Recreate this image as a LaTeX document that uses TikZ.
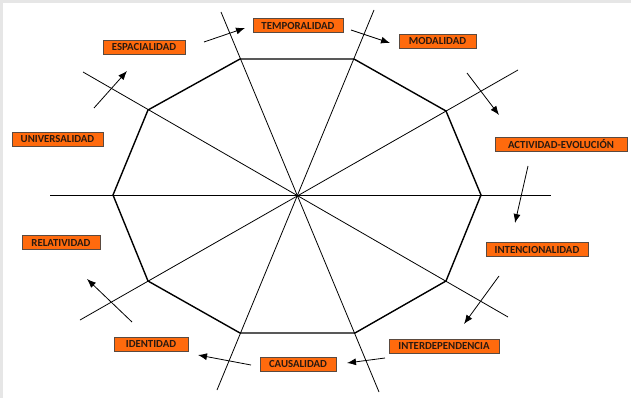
\documentclass[tikz,border=0pt]{standalone}
\usepackage{fontspec}
\setmainfont{Carlito}
\usetikzlibrary{arrows.meta}
\definecolor{boxorange}{HTML}{FF6A0D}
\definecolor{boxedge}{HTML}{5A4A40}
\definecolor{frame}{HTML}{E6E6E6}
\definecolor{txt}{HTML}{2A1A10}
\begin{document}
\begin{tikzpicture}[x=1pt,y=-1pt,
  lab/.style={draw=boxedge, line width=0.8pt, fill=boxorange, inner sep=0pt, minimum height=14pt, text=txt, font=\bfseries\fontsize{10.8}{12}\selectfont},
  spoke/.style={line width=0.8pt, black},
  poly/.style={line width=1.4pt, black, line join=miter},
  arr/.style={line width=0.8pt, -{Latex[length=9pt,width=7pt]}}]
\useasboundingbox (0,0) rectangle (631,398);
\fill[frame] (0,0) rectangle (631,398);
\fill[white] (3,3) rectangle (631,398);
% center and vertices
\coordinate (c) at (297,195);
\coordinate (v1) at (240,59);
\coordinate (v2) at (354,59);
\coordinate (v3) at (446,111);
\coordinate (v4) at (481,195);
\coordinate (v5) at (446,281);
\coordinate (v6) at (355,333);
\coordinate (v7) at (240,333);
\coordinate (v8) at (148,281);
\coordinate (v9) at (113,195);
\coordinate (v10) at (148,110);
% spoke ends
\coordinate (h1) at (50,195);
\coordinate (h2) at (551,195);
\coordinate (s1a) at (221,12);
\coordinate (s1b) at (379,392);
\coordinate (s2a) at (374,10);
\coordinate (s2b) at (217,390);
\coordinate (s3a) at (518,70);
\coordinate (s3b) at (80,320);
\coordinate (s4a) at (83,72);
\coordinate (s4b) at (508,317);
\draw[spoke] (h1) -- (h2);
\draw[spoke] (s1a) -- (s1b);
\draw[spoke] (s2a) -- (s2b);
\draw[spoke] (s3a) -- (s3b);
\draw[spoke] (s4a) -- (s4b);
\draw[poly] (v1) -- (v2) -- (v3) -- (v4) -- (v5) -- (v6) -- (v7) -- (v8) -- (v9) -- (v10) -- cycle;
% labels
\node[lab, minimum width=90pt] (temp) at (298,25.5) {TEMPORALIDAD};
\node[lab, minimum width=77pt] (moda) at (437.5,41) {MODALIDAD};
\node[lab, minimum width=82pt] (espa) at (144,47) {ESPACIALIDAD};
\node[lab, minimum width=91pt] (univ) at (57.5,139) {UNIVERSALIDAD};
\node[lab, minimum width=132pt] (acti) at (561,144) {ACTIVIDAD-EVOLUCIÓN};
\node[lab, minimum width=102pt] (inte) at (537,249.5) {INTENCIONALIDAD};
\node[lab, minimum width=110pt] (intd) at (444,346) {INTERDEPENDENCIA};
\node[lab, minimum width=76pt] (caus) at (298,364) {CAUSALIDAD};
\node[lab, minimum width=74pt] (iden) at (151,344) {IDENTIDAD};
\node[lab, minimum width=78pt] (rela) at (61,242.5) {RELATIVIDAD};
% arrows
\coordinate (a1s) at (204,42);  \coordinate (a1e) at (245,28);
\coordinate (a2s) at (351,30);  \coordinate (a2e) at (390,43);
\coordinate (a3s) at (467,73);  \coordinate (a3e) at (499,115);
\coordinate (a4s) at (528,166); \coordinate (a4e) at (515,223);
\coordinate (a5s) at (499,276); \coordinate (a5e) at (464,324);
\coordinate (a6s) at (385,358); \coordinate (a6e) at (347,363);
\coordinate (a7s) at (251,365); \coordinate (a7e) at (198,355);
\coordinate (a8s) at (132,322); \coordinate (a8e) at (87,279);
\coordinate (a9s) at (94,108);  \coordinate (a9e) at (127,71);
\draw[arr] (a1s) -- (a1e);
\draw[arr] (a2s) -- (a2e);
\draw[arr] (a3s) -- (a3e);
\draw[arr] (a4s) -- (a4e);
\draw[arr] (a5s) -- (a5e);
\draw[arr] (a6s) -- (a6e);
\draw[arr] (a7s) -- (a7e);
\draw[arr] (a8s) -- (a8e);
\draw[arr] (a9s) -- (a9e);
\end{tikzpicture}
\end{document}
